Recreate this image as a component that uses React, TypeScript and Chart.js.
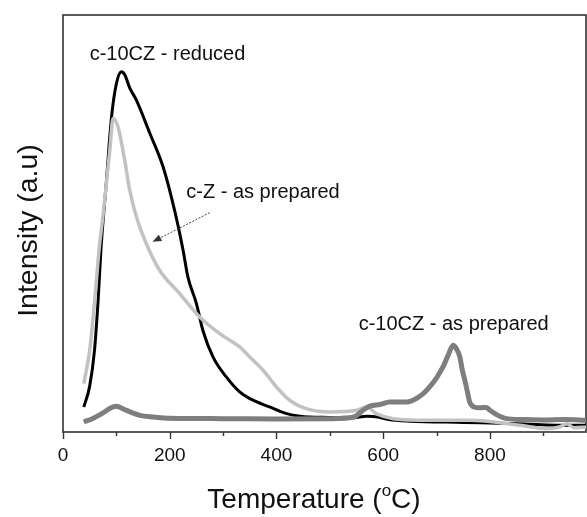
import React, { useEffect, useRef } from "react";
import { Chart, registerables } from "chart.js";

Chart.register(...registerables);

const FONT = "'Liberation Sans', Arial, Helvetica, sans-serif";

// c-10CZ - reduced (black)
const tempReduced = [39, 50, 59, 66, 71, 81, 91, 100, 109.5, 116, 125, 137.5, 162.5, 187.5, 209, 225, 234, 250, 262, 281, 306, 331, 350, 387, 419, 444, 500, 540, 570, 590, 610, 650, 750, 850, 950, 980];
const intReduced = [6.0, 11, 19.6, 32, 43.6, 59.6, 75.6, 83.5, 86.4, 85.6, 82.5, 79.6, 71.7, 63.6, 53.2, 43.6, 37.2, 30.8, 24.4, 18, 13.2, 9.6, 8.0, 6.0, 4.4, 3.8, 3.5, 3.4, 3.8, 3.6, 3.0, 2.6, 2.3, 2.0, 1.6, 1.6];

// c-Z - as prepared (light grey)
const tempCZ = [39, 50, 59.4, 67.5, 75, 81.3, 88, 93.7, 103, 115.6, 125, 137.5, 156, 181, 218.7, 256, 293.7, 331, 350, 375, 400, 425, 456, 500, 550, 569, 587, 619, 687, 762, 856, 906, 930, 944, 958, 980];
const intCZ = [11.6, 19.6, 31.6, 43.6, 52, 59.6, 68, 75.2, 73.2, 65.2, 58, 51.6, 45.2, 38.8, 33.2, 27.6, 23.6, 20.4, 18, 14.8, 10.8, 7.6, 5.6, 4.8, 5.2, 6.0, 4.4, 3.2, 2.8, 2.8, 1.6, 0.8, 1.2, 2.0, 1.0, 1.2];

// c-10CZ - as prepared (dark grey)
const tempPrepared = [39, 55, 75, 90, 100, 115, 130, 144, 170, 200, 300, 400, 500, 545, 562, 575, 594, 612, 644, 656, 675, 687, 700, 712, 722, 731, 737, 743.6, 748, 753, 758, 762, 770, 781, 793, 800, 812, 831, 860, 900, 940, 980];
const intPrepared = [2.4, 3.2, 4.6, 5.8, 6.2, 5.4, 4.6, 4.0, 3.6, 3.3, 3.2, 3.1, 3.2, 3.6, 5.2, 6.2, 6.6, 7.2, 7.2, 7.6, 9.2, 10.8, 13, 15.6, 18.5, 20.8, 20, 18, 15, 12.4, 9.5, 7.2, 6.0, 5.8, 5.9, 5.2, 4.2, 3.2, 3.0, 2.9, 3.0, 2.8];

const xMin = 0;
const xMax = 980;
const yMin = 0;
const yMax = 100;
const labeledStep = 200;
const tickStep = 100;

// annotations: [text, x, y(baseline)]
const annLabels = ["c-10CZ - reduced", "c-Z - as prepared", "c-10CZ - as prepared"];
const annX = [50, 231, 554];
const annY = [89.2, 56.0, 24.4];
// arrow from (x0,y0) to (x1,y1), data units
const arrowFrom = [275, 52.6];
const arrowTo = [167.6, 45.6];

const toPts = (xs: number[], ys: number[]) => xs.map((x, i) => ({ x, y: ys[i] }));

const decorPlugin = {
  id: "decor",
  beforeDatasetsDraw(chart: any) {
    const { ctx, chartArea } = chart;
    const xs = chart.scales.x;
    ctx.save();
    ctx.strokeStyle = "#333";
    ctx.lineWidth = 1.6;
    ctx.strokeRect(chartArea.left, chartArea.top, chartArea.right - chartArea.left, chartArea.bottom - chartArea.top);
    // tick marks
    ctx.lineWidth = 1.4;
    for (let v = xMin; v <= xMax; v += tickStep) {
      const px = Math.round(xs.getPixelForValue(v)) + 0.5;
      const len = v % labeledStep === 0 ? 7 : 4;
      ctx.beginPath();
      ctx.moveTo(px, chartArea.bottom);
      ctx.lineTo(px, chartArea.bottom + len);
      ctx.stroke();
    }
    ctx.restore();
  },
  afterDatasetsDraw(chart: any) {
    const { ctx } = chart;
    const xs = chart.scales.x;
    const ys = chart.scales.y;
    ctx.save();
    ctx.fillStyle = "#111";
    ctx.font = `20px ${FONT}`;
    ctx.textBaseline = "alphabetic";
    ctx.textAlign = "left";
    annLabels.forEach((t, i) => {
      ctx.fillText(t, xs.getPixelForValue(annX[i]), ys.getPixelForValue(annY[i]));
    });
    // arrow
    const x0 = xs.getPixelForValue(arrowFrom[0]);
    const y0 = ys.getPixelForValue(arrowFrom[1]);
    const x1 = xs.getPixelForValue(arrowTo[0]);
    const y1 = ys.getPixelForValue(arrowTo[1]);
    const ang = Math.atan2(y1 - y0, x1 - x0);
    ctx.strokeStyle = "#444";
    ctx.lineWidth = 1;
    ctx.setLineDash([2, 1.5]);
    ctx.beginPath();
    ctx.moveTo(x0, y0);
    ctx.lineTo(x1 - 6 * Math.cos(ang), y1 - 6 * Math.sin(ang));
    ctx.stroke();
    ctx.setLineDash([]);
    ctx.fillStyle = "#333";
    ctx.beginPath();
    ctx.moveTo(x1, y1);
    ctx.lineTo(x1 - 9 * Math.cos(ang) + 3.5 * Math.sin(ang), y1 - 9 * Math.sin(ang) - 3.5 * Math.cos(ang));
    ctx.lineTo(x1 - 9 * Math.cos(ang) - 3.5 * Math.sin(ang), y1 - 9 * Math.sin(ang) + 3.5 * Math.cos(ang));
    ctx.closePath();
    ctx.fill();

    // axis titles
    const area = chart.chartArea;
    ctx.fillStyle = "#111";
    ctx.font = `28px ${FONT}`;
    const main = "Temperature (";
    const sup = "o";
    const tail = "C)";
    const wMain = ctx.measureText(main).width;
    const wTail = ctx.measureText(tail).width;
    ctx.font = `17px ${FONT}`;
    const wSup = ctx.measureText(sup).width;
    const total = wMain + wSup + wTail;
    const cx = 314;
    const base = 508;
    let sx = cx - total / 2;
    ctx.font = `28px ${FONT}`;
    ctx.fillText(main, sx, base);
    sx += wMain;
    ctx.font = `17px ${FONT}`;
    ctx.fillText(sup, sx, base - 12);
    sx += wSup;
    ctx.font = `28px ${FONT}`;
    ctx.fillText(tail, sx, base);

    ctx.save();
    ctx.translate(37, (area.top + area.bottom) / 2 + 7);
    ctx.rotate(-Math.PI / 2);
    ctx.textAlign = "center";
    ctx.font = `28.5px ${FONT}`;
    ctx.fillText("Intensity (a.u)", 0, 0);
    ctx.restore();
    ctx.restore();
  },
};

export default function App() {
  const ref = useRef<HTMLCanvasElement>(null);
  useEffect(() => {
    document.body.style.margin = "0";
    const chart = new Chart(ref.current as HTMLCanvasElement, {
      type: "line",
      data: {
        datasets: [
          {
            label: "c-10CZ - as prepared",
            data: toPts(tempPrepared, intPrepared),
            borderColor: "#7e7e7e",
            borderWidth: 5,
            pointRadius: 0,
            cubicInterpolationMode: "monotone",
            clip: false,
          },
          {
            label: "c-Z - as prepared",
            data: toPts(tempCZ, intCZ),
            borderColor: "#c2c2c2",
            borderWidth: 3.5,
            pointRadius: 0,
            cubicInterpolationMode: "monotone",
            clip: false,
          },
          {
            label: "c-10CZ - reduced",
            data: toPts(tempReduced, intReduced),
            borderColor: "#000000",
            borderWidth: 3,
            pointRadius: 0,
            cubicInterpolationMode: "monotone",
            clip: false,
          },
        ],
      },
      options: {
        responsive: false,
        animation: false,
        layout: { padding: { left: 63, top: 15, right: 1, bottom: 0 } },
        plugins: { legend: { display: false }, tooltip: { enabled: false } },
        scales: {
          x: {
            type: "linear",
            min: xMin,
            max: xMax,
            grid: { display: false, drawTicks: true, tickLength: 12 },
            border: { display: false },
            ticks: {
              stepSize: tickStep,
              autoSkip: false,
              maxRotation: 0,
              padding: 0,
              color: "#111",
              font: { family: FONT, size: 19 },
              callback: (v: any) => (Number(v) % labeledStep === 0 ? String(v) : ""),
            },
            afterFit: (s: any) => {
              s.height = 85;
            },
          },
          y: {
            display: false,
            min: yMin,
            max: yMax,
          },
        },
      },
      plugins: [decorPlugin],
    } as any);
    return () => chart.destroy();
  }, []);
  return (
    <div style={{ position: "absolute", left: 0, top: 0, width: 587, height: 517, background: "#fff" }}>
      <canvas ref={ref} width={587} height={517} />
    </div>
  );
}
